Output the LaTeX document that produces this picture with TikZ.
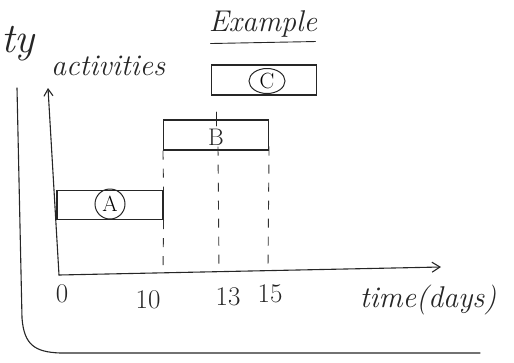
\documentclass[tikz,border=0pt]{standalone}
\usetikzlibrary{arrows.meta,shapes.geometric}
\begin{document}
\begin{tikzpicture}[x=1pt,y=-1pt,
  ink/.style={draw=black!85, line width=1.1pt, line cap=round, line join=round},
  actbox/.style={draw=black!85, line width=1.1pt},
  hand/.style={font=\itshape\fontsize{30}{32}\selectfont, text=black!85, inner sep=0pt},
  lbl/.style={font=\fontsize{27}{29}\selectfont, text=black!85, inner sep=0pt},
  guide/.style={draw=black!80, line width=0.9pt, dash pattern=on 9pt off 9pt},
  circ/.style={circle, draw=black!85, line width=1pt, inner sep=1pt, font=\fontsize{22}{24}\selectfont}]
\useasboundingbox (0,0) rectangle (514,362);
% partial word at left
\node[hand, font=\itshape\fontsize{42}{44}\selectfont, anchor=west] (ty) at (1,44) {ty};
% outer frame line
\coordinate (f1) at (17,88);
\coordinate (f2) at (480,353);
\draw[ink] (f1) -- (22,318) .. controls (24,345) and (35,352) .. (60,353) -- (f2);
% title
\node[hand] (title) at (263,24) {Example};
\draw[ink, line width=0.9pt] ([xshift=2pt,yshift=-6pt]title.south west) -- ([xshift=-2pt,yshift=-4pt]title.south east);
% axes
\coordinate (o) at (59,275);
\coordinate (ytop) at (48,88);
\coordinate (xend) at (441,267);
\draw[ink, -{Straight Barb[length=7pt,width=9pt]}] (o) -- (ytop);
\draw[ink, -{Straight Barb[length=8pt,width=10pt]}] (o) -- (xend);
\node[hand] (act) at (108,66) {activities};
\node[hand] (time) at (428,300) {time(days)};
% boxes
\node[actbox, minimum width=106pt, minimum height=29pt] (A) at (110,205) {};
\node[circ, minimum size=30pt] (Al) at (110,204) {A};
\node[actbox, minimum width=105pt, minimum height=30pt] (B) at (216,135) {};
\node[lbl, font=\fontsize{24}{26}\selectfont] (Bl) at (216,137) {B};
\draw[ink, line width=0.8pt] (216,112) -- (216,126);
\node[actbox, minimum width=105pt, minimum height=30pt] (C) at (264,80) {};
\node[ellipse, draw=black!85, line width=1pt, inner sep=0pt, minimum width=36pt, minimum height=25pt, font=\fontsize{22}{24}\selectfont] (Cl) at (267,81) {C};
% dashed guides
\coordinate (d10) at (163,273);
\coordinate (d13) at (219,270);
\coordinate (d15) at (268,268);
\draw[guide] (A.south east) -- (d10);
\draw[guide] ([yshift=4pt]B.south) ++(2,0) -- (d13);
\draw[guide] ([yshift=4pt]B.south east) -- (d15);
\draw[guide] (B.south west) -- (A.north east);
% tick labels
\node[lbl] (t0) at (62,294) {0};
\node[lbl] (t10) at (148,300) {10};
\node[lbl] (t13) at (228,297) {13};
\node[lbl] (t15) at (270,294) {15};
\end{tikzpicture}
\end{document}
